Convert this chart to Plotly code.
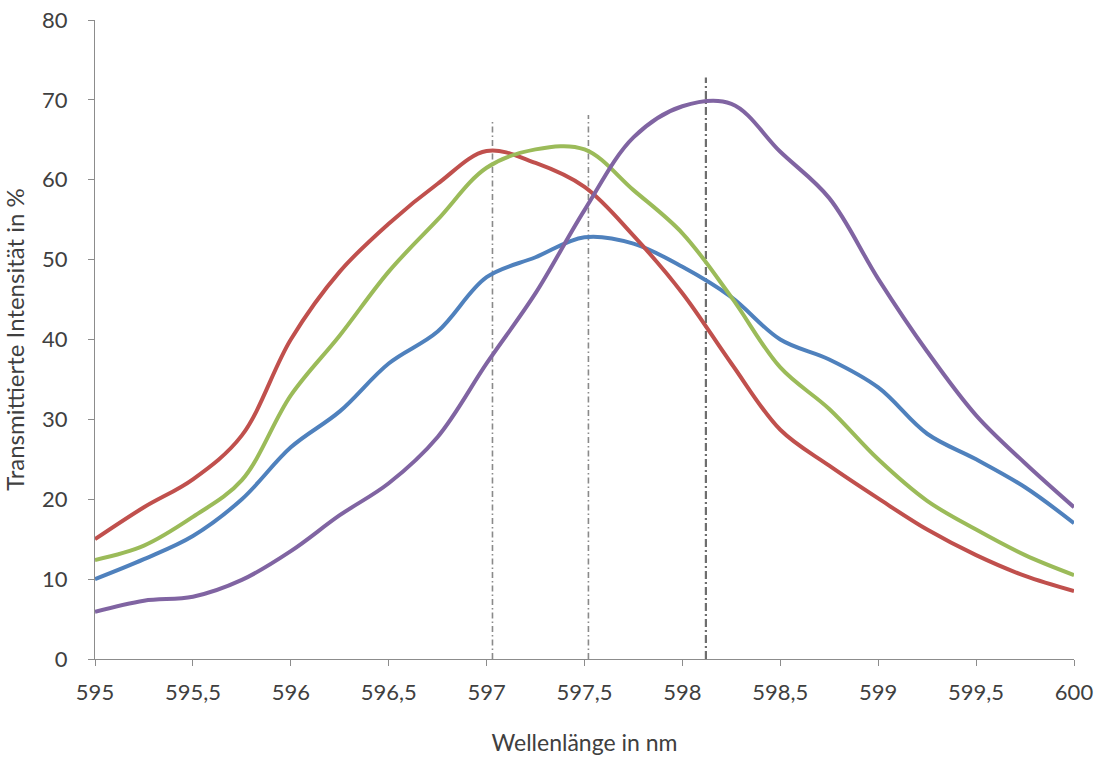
import plotly.graph_objects as go

# Wellenlängen-Stützstellen in nm
wavelength = [595.0, 595.25, 595.5, 595.75, 596.0, 596.25, 596.5, 596.75, 597.0,
              597.25, 597.5, 597.75, 598.0, 598.25, 598.5, 598.75, 599.0,
              599.25, 599.5, 599.75, 600.0]

# Transmittierte Intensität in % für die vier Messungen
red_series = [15.0, 19.0, 22.5, 28.0, 40.0, 48.5, 54.5, 59.5, 63.6,
              62.1, 59.1, 53.0, 45.8, 37.0, 28.7, 24.2, 20.1,
              16.2, 13.0, 10.4, 8.5]
green_series = [12.4, 14.2, 17.8, 22.4, 33.0, 40.5, 48.5, 55.0, 61.5,
                63.8, 63.8, 58.7, 53.3, 45.3, 36.5, 31.3, 25.0,
                19.8, 16.2, 13.0, 10.5]
blue_series = [10.0, 12.5, 15.4, 20.0, 26.5, 31.0, 37.0, 41.0, 47.8,
               50.3, 52.8, 52.0, 49.1, 45.3, 40.0, 37.5, 34.0,
               28.2, 25.0, 21.5, 17.0]
purple_series = [5.9, 7.3, 7.8, 9.9, 13.5, 18.0, 22.0, 27.8, 37.0,
                 45.8, 56.2, 65.3, 69.2, 69.5, 63.5, 57.7, 47.6,
                 38.5, 30.5, 24.5, 19.0]

# Markierte Peak-Wellenlängen (nm) und Höhe der Markierungslinien (%)
peak_positions = [597.03, 597.52, 598.12]
peak_line_tops = [67.6, 68.1, 72.8]
peak_line_styles = [
    ("6px,3px,1.5px,3px", 1.6, "#8a8a8a"),
    ("6px,3px,1.5px,3px", 1.6, "#8a8a8a"),
    ("8px,3px,2px,3px", 2.2, "#6e6e6e"),
]

x_ticks = [595, 595.5, 596, 596.5, 597, 597.5, 598, 598.5, 599, 599.5, 600]
x_tick_labels = ["595", "595,5", "596", "596,5", "597", "597,5", "598", "598,5", "599", "599,5", "600"]
y_ticks = [0, 10, 20, 30, 40, 50, 60, 70, 80]

fig = go.Figure()

for xp, top, (dash, w, col) in zip(peak_positions, peak_line_tops, peak_line_styles):
    fig.add_trace(go.Scatter(x=[xp, xp], y=[0, top], mode="lines",
                             line=dict(color=col, width=w, dash=dash),
                             hoverinfo="skip", showlegend=False))

series = [
    (blue_series, "#4F81BD"),
    (red_series, "#C0504D"),
    (green_series, "#9BBB59"),
    (purple_series, "#8064A2"),
]
for values, color in series:
    fig.add_trace(go.Scatter(x=wavelength, y=values, mode="lines",
                             line=dict(color=color, width=4, shape="spline", smoothing=1.0),
                             showlegend=False))

family = "Lato, Open Sans, sans-serif"
tick_font = dict(family=family, size=22, color="#404040")

fig.update_layout(
    width=1101, height=760,
    margin=dict(l=95, r=27, t=20, b=101),
    plot_bgcolor="white", paper_bgcolor="white",
    xaxis=dict(range=[595, 600], tickvals=x_ticks, ticktext=x_tick_labels,
               showgrid=False, zeroline=False, showline=True, linecolor="#8c8c8c",
               linewidth=1, ticks="outside", ticklen=6, tickcolor="#8c8c8c",
               tickfont=tick_font, automargin=False, ticklabelstandoff=8,
               title=dict(text="Wellenlänge in nm",
                          font=dict(family=family, size=23, color="#404040"), standoff=30)),
    yaxis=dict(range=[0, 80], tickvals=y_ticks, showgrid=False, zeroline=False,
               showline=True, linecolor="#8c8c8c", linewidth=1, ticks="outside",
               ticklen=6, tickcolor="#8c8c8c", tickfont=tick_font, automargin=False,
               ticklabelstandoff=16,
               title=dict(text="Transmittierte Intensität in %",
                          font=dict(family=family, size=24, color="#404040"), standoff=10)),
)

fig.write_html("out.html")
